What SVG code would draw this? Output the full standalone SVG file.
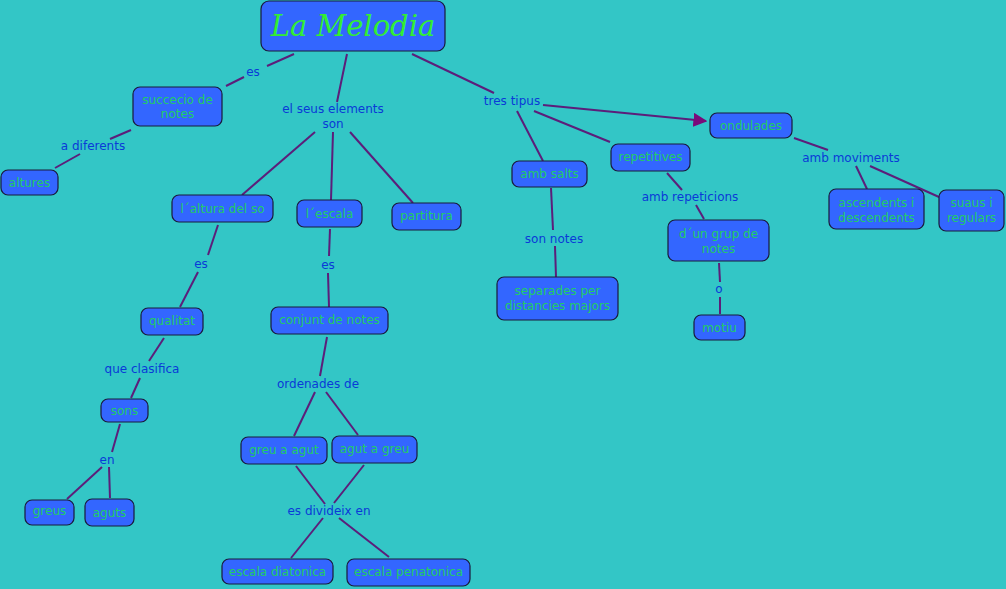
<svg xmlns="http://www.w3.org/2000/svg" width="1006" height="589" viewBox="0 0 1006 589">
<defs>
<style>
.n rect{fill:#3366FF;stroke:#1a1a3a;stroke-width:1.2}
.n text{fill:#22CC66;font-family:"DejaVu Sans",Verdana,sans-serif;font-size:12px;text-anchor:middle}
.lb{fill:#0a3ad8;font-family:"DejaVu Sans",Verdana,sans-serif;font-size:12px;text-anchor:middle}
.c line{stroke:#5c1e7a;stroke-width:2}
</style>
<marker id="ah" viewBox="0 0 10 10" refX="9" refY="5" markerWidth="7" markerHeight="7" markerUnits="strokeWidth" orient="auto"><path d="M0,0 L10,5 L0,10 z" fill="#7a0a7a"/></marker>
</defs>
<rect x="0" y="0" width="1006" height="589" fill="#33C6C6"/>
<g id="connectors" class="c">
<line x1="294" y1="54" x2="267" y2="66"/><line x1="244" y1="77" x2="226" y2="86"/>
<line x1="131" y1="130" x2="110" y2="139"/><line x1="80" y1="154" x2="55" y2="168"/>
<line x1="347" y1="54" x2="337" y2="102"/>
<line x1="315" y1="132" x2="242" y2="195"/>
<line x1="333" y1="132" x2="331" y2="200"/>
<line x1="350" y1="132" x2="413" y2="203"/>
<line x1="412" y1="54" x2="494" y2="93"/>
<line x1="543" y1="105" x2="706" y2="121" stroke="#7a0a7a" marker-end="url(#ah)"/>
<line x1="517" y1="111" x2="543" y2="161"/>
<line x1="534" y1="111" x2="610" y2="142"/>
<line x1="551" y1="188" x2="553" y2="230"/><line x1="555" y1="246" x2="556" y2="277"/>
<line x1="667" y1="173" x2="682" y2="190"/><line x1="696" y1="205" x2="704" y2="219"/>
<line x1="719" y1="263" x2="720" y2="282"/><line x1="720" y1="297" x2="720" y2="314"/>
<line x1="794" y1="138" x2="828" y2="150"/><line x1="856" y1="166" x2="867" y2="189"/><line x1="870" y1="166" x2="939" y2="197"/>
<line x1="218" y1="225" x2="208" y2="255"/><line x1="198" y1="272" x2="180" y2="307"/>
<line x1="164" y1="338" x2="149" y2="361"/><line x1="140" y1="378" x2="131" y2="398"/>
<line x1="120" y1="424" x2="112" y2="452"/><line x1="102" y1="467" x2="67" y2="499"/><line x1="109" y1="467" x2="110" y2="498"/>
<line x1="330" y1="229" x2="329" y2="256"/><line x1="328" y1="273" x2="329" y2="307"/>
<line x1="327" y1="337" x2="320" y2="376"/><line x1="315" y1="392" x2="294" y2="436"/><line x1="326" y1="392" x2="358" y2="435"/>
<line x1="296" y1="466" x2="325" y2="504"/><line x1="364" y1="465" x2="334" y2="503"/>
<line x1="323" y1="518" x2="291" y2="558"/><line x1="339" y1="518" x2="389" y2="557"/>
</g>
<g id="labels">
<text class="lb" x="253" y="76">es</text>
<text class="lb" x="93" y="150">a diferents</text>
<text class="lb" x="333" y="113">el seus elements</text>
<text class="lb" x="333" y="128">son</text>
<text class="lb" x="512" y="105">tres tipus</text>
<text class="lb" x="201" y="268">es</text>
<text class="lb" x="328" y="269">es</text>
<text class="lb" x="142" y="373">que clasifica</text>
<text class="lb" x="107" y="464">en</text>
<text class="lb" x="318" y="388">ordenades de</text>
<text class="lb" x="329" y="515">es divideix en</text>
<text class="lb" x="554" y="243">son notes</text>
<text class="lb" x="690" y="201">amb repeticions</text>
<text class="lb" x="719" y="293">o</text>
<text class="lb" x="851" y="162">amb moviments</text>
</g>
<g id="n-melodia" class="n"><rect x="261" y="1" width="184" height="50" rx="8"/><text x="353" y="36" style="font-family:'DejaVu Serif',serif;font-style:italic;font-size:29px;fill:#33EE33">La Melodia</text></g>
<g id="n-succecio" class="n"><rect x="133" y="87" width="89" height="39" rx="7"/><text x="177.5" y="104">succecio de</text><text x="177.5" y="118">notes</text></g>
<g id="n-altures" class="n"><rect x="1" y="170" width="57" height="25" rx="7"/><text x="29.5" y="187">altures</text></g>
<g id="n-altura" class="n"><rect x="172" y="195" width="101" height="27" rx="7"/><text x="222.5" y="213">l´altura del so</text></g>
<g id="n-escala" class="n"><rect x="297" y="200" width="65" height="27" rx="7"/><text x="329.5" y="218">l´escala</text></g>
<g id="n-partitura" class="n"><rect x="392" y="203" width="69" height="27" rx="7"/><text x="426.5" y="220">partitura</text></g>
<g id="n-qualitat" class="n"><rect x="141" y="308" width="62" height="27" rx="7"/><text x="172" y="325">qualitat</text></g>
<g id="n-conjunt" class="n"><rect x="271" y="307" width="117" height="27" rx="7"/><text x="329.5" y="324">conjunt de notes</text></g>
<g id="n-sons" class="n"><rect x="101" y="399" width="47" height="23" rx="7"/><text x="124.5" y="415">sons</text></g>
<g id="n-greus" class="n"><rect x="25" y="500" width="49" height="25" rx="7"/><text x="49.5" y="515">greus</text></g>
<g id="n-aguts" class="n"><rect x="85" y="499" width="49" height="27" rx="7"/><text x="109.5" y="517">aguts</text></g>
<g id="n-greuagut" class="n"><rect x="241" y="437" width="86" height="27" rx="7"/><text x="284" y="454">greu a agut</text></g>
<g id="n-agutgreu" class="n"><rect x="332" y="436" width="85" height="27" rx="7"/><text x="374.5" y="453">agut a greu</text></g>
<g id="n-diatonica" class="n"><rect x="222" y="559" width="111" height="25" rx="7"/><text x="277.5" y="576">escala diatonica</text></g>
<g id="n-penatonica" class="n"><rect x="347" y="559" width="123" height="27" rx="7"/><text x="408.5" y="576">escala penatonica</text></g>
<g id="n-salts" class="n"><rect x="512" y="161" width="75" height="26" rx="7"/><text x="549.5" y="178">amb salts</text></g>
<g id="n-repetitives" class="n"><rect x="611" y="144" width="79" height="27" rx="7"/><text x="650.5" y="161">repetitives</text></g>
<g id="n-ondulades" class="n"><rect x="710" y="113" width="82" height="25" rx="7"/><text x="751" y="130">ondulades</text></g>
<g id="n-grup" class="n"><rect x="668" y="220" width="101" height="41" rx="7"/><text x="718.5" y="238">d´un grup de</text><text x="718.5" y="253">notes</text></g>
<g id="n-separades" class="n"><rect x="497" y="277" width="121" height="43" rx="7"/><text x="557.5" y="295">separades per</text><text x="557.5" y="310">distancies majors</text></g>
<g id="n-motiu" class="n"><rect x="694" y="315" width="51" height="25" rx="7"/><text x="719.5" y="332">motiu</text></g>
<g id="n-ascendents" class="n"><rect x="829" y="189" width="95" height="40" rx="7"/><text x="876.5" y="207">ascendents i</text><text x="876.5" y="222">descendents</text></g>
<g id="n-suaus" class="n"><rect x="939" y="190" width="65" height="41" rx="7"/><text x="971.5" y="207">suaus i</text><text x="971.5" y="222">regulars</text></g>
</svg>
